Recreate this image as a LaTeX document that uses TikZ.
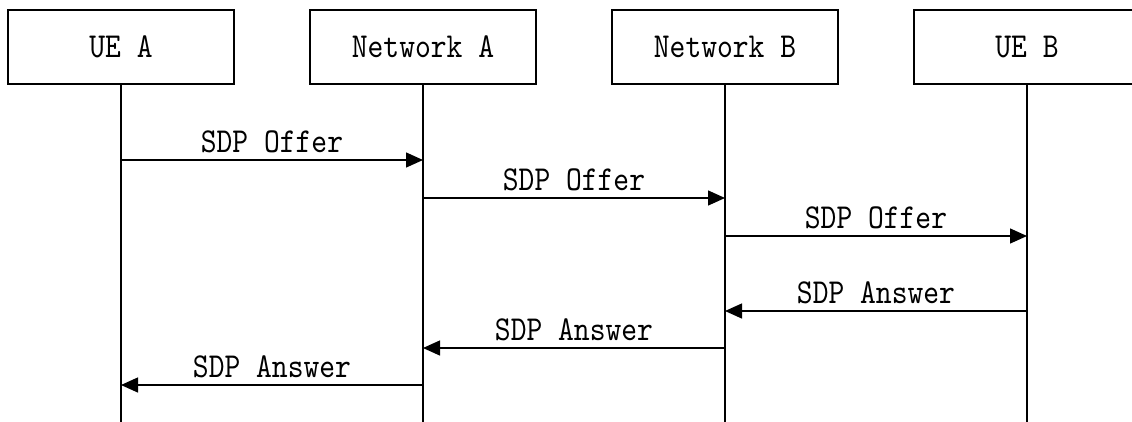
\documentclass[tikz,border=0pt]{standalone}
\usepackage{fontspec}
\newfontfamily\simfont{lmmono10-regular.otf}[FakeStretch=0.86]
\usetikzlibrary{arrows.meta,calc}
\begin{document}
\begin{tikzpicture}[x=1pt,y=-1pt,
  actor/.style={draw,line width=1.4pt,minimum width=226pt,minimum height=74pt,inner sep=0pt,font=\simfont\fontsize{35}{35}\selectfont},
  life/.style={line width=1.4pt},
  msg/.style={line width=1.4pt,-{Triangle[length=17pt,width=15pt]}},
  lbl/.style={midway,anchor=base,yshift=8pt,inner sep=0pt,font=\simfont\fontsize{35}{35}\selectfont}]
\useasboundingbox (0,0) rectangle (1132,421);
\node[actor] (ua) at (121,47) {UE A};
\node[actor] (na) at (423,47) {Network A};
\node[actor] (nb) at (725,47) {Network B};
\node[actor] (ub) at (1027,47) {UE B};
\coordinate (bot) at (0,422);
\foreach \n in {ua,na,nb,ub}{\draw[life] (\n.south) -- (\n.south |- bot);}
\coordinate (r1) at (0,160);
\coordinate (r2) at (0,198);
\coordinate (r3) at (0,236);
\coordinate (r4) at (0,311);
\coordinate (r5) at (0,348);
\coordinate (r6) at (0,385);
\draw[msg] (ua |- r1) -- node[lbl]{SDP Offer} (na |- r1);
\draw[msg] (na |- r2) -- node[lbl]{SDP Offer} (nb |- r2);
\draw[msg] (nb |- r3) -- node[lbl]{SDP Offer} (ub |- r3);
\draw[msg] (ub |- r4) -- node[lbl]{SDP Answer} (nb |- r4);
\draw[msg] (nb |- r5) -- node[lbl]{SDP Answer} (na |- r5);
\draw[msg] (na |- r6) -- node[lbl]{SDP Answer} (ua |- r6);
\end{tikzpicture}
\end{document}
